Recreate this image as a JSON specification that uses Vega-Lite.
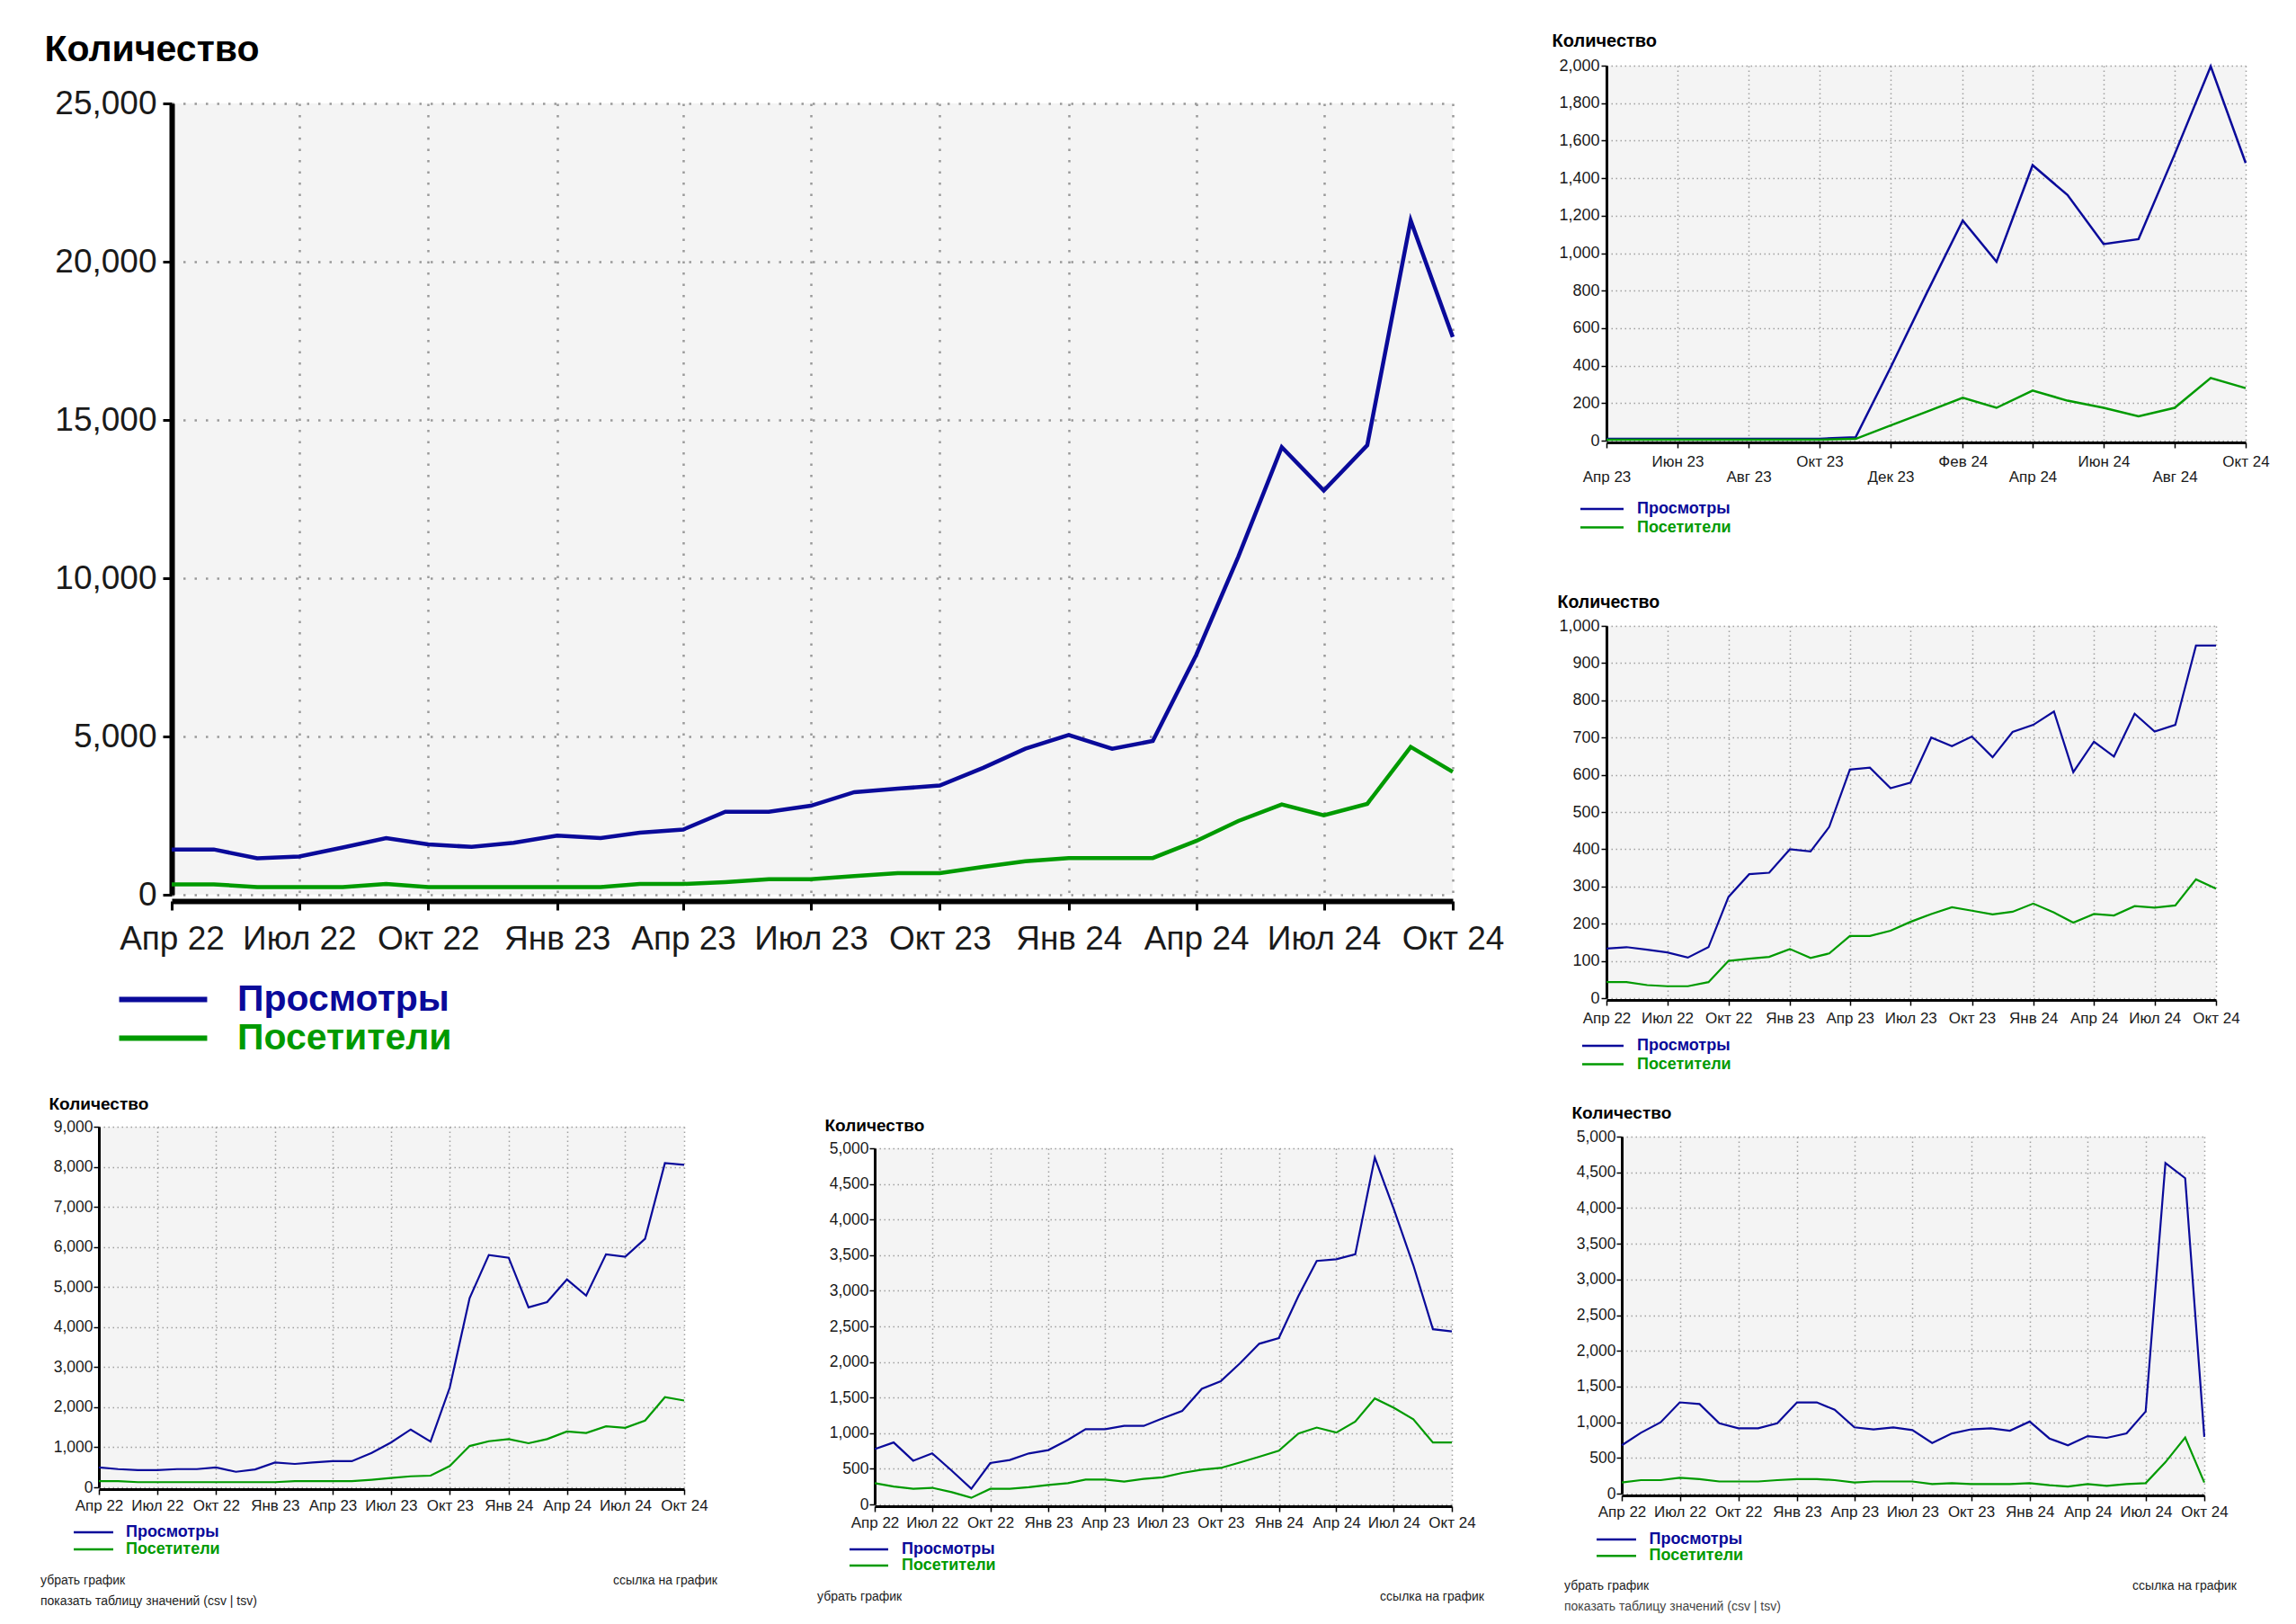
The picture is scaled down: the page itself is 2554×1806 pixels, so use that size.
{
  "$schema": "https://vega.github.io/schema/vega-lite/v6.json",
  "padding": {"left": 45, "top": 34, "right": 5, "bottom": 5},
  "background": "white",
  "bounds": "flush",
  "spacing": 0,
  "resolve": {"scale": {"color": "independent"}, "legend": {"color": "independent"}},
  "config": {
    "font": "Liberation Sans",
    "view": {"stroke": null},
    "axis": {"labelFont": "Liberation Sans", "titleFont": "Liberation Sans", "labelColor": "#1a1a1a", "titleColor": "#000", "domainColor": "#000", "tickColor": "#000", "labelFlush": false, "labelOverlap": false, "grid": true},
    "legend": {"labelFont": "Liberation Sans"},
    "text": {"font": "Liberation Sans"}
  },
  "datasets": {
    "main": [
      {"d":"2022-04-01","Просмотры":1430,"Посетители":330},{"d":"2022-05-01","Просмотры":1430,"Посетители":330},{"d":"2022-06-01","Просмотры":1150,"Посетители":240},{"d":"2022-07-01","Просмотры":1210,"Посетители":240},{"d":"2022-08-01","Просмотры":1490,"Посетители":240},{"d":"2022-09-01","Просмотры":1790,"Посетители":340},{"d":"2022-10-01","Просмотры":1590,"Посетители":240},{"d":"2022-11-01","Просмотры":1510,"Посетители":240},{"d":"2022-12-01","Просмотры":1640,"Посетители":240},{"d":"2023-01-01","Просмотры":1870,"Посетители":240},{"d":"2023-02-01","Просмотры":1790,"Посетители":240},{"d":"2023-03-01","Просмотры":1960,"Посетители":340},{"d":"2023-04-01","Просмотры":2060,"Посетители":340},{"d":"2023-05-01","Просмотры":2620,"Посетители":400},{"d":"2023-06-01","Просмотры":2620,"Посетители":490},{"d":"2023-07-01","Просмотры":2810,"Посетители":490},{"d":"2023-08-01","Просмотры":3240,"Посетители":590},{"d":"2023-09-01","Просмотры":3350,"Посетители":680},{"d":"2023-10-01","Просмотры":3450,"Посетители":680},{"d":"2023-11-01","Просмотры":4010,"Посетители":880},{"d":"2023-12-01","Просмотры":4610,"Посетители":1060},{"d":"2024-01-01","Просмотры":5050,"Посетители":1160},{"d":"2024-02-01","Просмотры":4610,"Посетители":1160},{"d":"2024-03-01","Просмотры":4860,"Посетители":1160},{"d":"2024-04-01","Просмотры":7580,"Посетители":1700},{"d":"2024-05-01","Просмотры":10680,"Посетители":2330},{"d":"2024-06-01","Просмотры":14140,"Посетители":2850},{"d":"2024-07-01","Просмотры":12770,"Посетители":2510},{"d":"2024-08-01","Просмотры":14200,"Посетители":2870},{"d":"2024-09-01","Просмотры":21300,"Посетители":4670},{"d":"2024-10-01","Просмотры":17620,"Посетители":3880}
    ],
    "tr": [
      {"d":"2023-04-01","Просмотры":10,"Посетители":5},{"d":"2023-05-01","Просмотры":10,"Посетители":5},{"d":"2023-06-01","Просмотры":10,"Посетители":5},{"d":"2023-07-01","Просмотры":10,"Посетители":5},{"d":"2023-08-01","Просмотры":10,"Посетители":5},{"d":"2023-09-01","Просмотры":10,"Посетители":5},{"d":"2023-10-01","Просмотры":10,"Посетители":5},{"d":"2023-11-01","Просмотры":18,"Посетители":9},{"d":"2023-12-01","Просмотры":390,"Посетители":81},{"d":"2024-01-01","Просмотры":786,"Посетители":154},{"d":"2024-02-01","Просмотры":1174,"Посетители":229},{"d":"2024-03-01","Просмотры":954,"Посетители":175},{"d":"2024-04-01","Просмотры":1469,"Посетители":267},{"d":"2024-05-01","Просмотры":1310,"Посетители":213},{"d":"2024-06-01","Просмотры":1048,"Посетители":175},{"d":"2024-07-01","Просмотры":1075,"Посетители":130},{"d":"2024-08-01","Просмотры":1527,"Посетители":175},{"d":"2024-09-01","Просмотры":1996,"Посетители":334},{"d":"2024-10-01","Просмотры":1481,"Посетители":280}
    ],
    "mr": [
      {"d":"2022-04-01","Просмотры":133,"Посетители":43},{"d":"2022-05-01","Просмотры":137,"Посетители":43},{"d":"2022-06-01","Просмотры":130,"Посетители":35},{"d":"2022-07-01","Просмотры":123,"Посетители":32},{"d":"2022-08-01","Просмотры":109,"Посетители":32},{"d":"2022-09-01","Просмотры":137,"Посетители":43},{"d":"2022-10-01","Просмотры":272,"Посетители":100},{"d":"2022-11-01","Просмотры":333,"Посетители":106},{"d":"2022-12-01","Просмотры":337,"Посетители":111},{"d":"2023-01-01","Просмотры":400,"Посетители":132},{"d":"2023-02-01","Просмотры":394,"Посетители":108},{"d":"2023-03-01","Просмотры":460,"Посетители":120},{"d":"2023-04-01","Просмотры":614,"Посетители":167},{"d":"2023-05-01","Просмотры":619,"Посетители":167},{"d":"2023-06-01","Просмотры":564,"Посетители":181},{"d":"2023-07-01","Просмотры":579,"Посетители":205},{"d":"2023-08-01","Просмотры":700,"Посетители":226},{"d":"2023-09-01","Просмотры":677,"Посетители":244},{"d":"2023-10-01","Просмотры":703,"Посетители":235},{"d":"2023-11-01","Просмотры":647,"Посетители":225},{"d":"2023-12-01","Просмотры":715,"Посетители":232},{"d":"2024-01-01","Просмотры":734,"Посетители":254},{"d":"2024-02-01","Просмотры":770,"Посетители":230},{"d":"2024-03-01","Просмотры":607,"Посетители":203},{"d":"2024-04-01","Просмотры":689,"Посетители":226},{"d":"2024-05-01","Просмотры":649,"Посетители":222},{"d":"2024-06-01","Просмотры":764,"Посетители":247},{"d":"2024-07-01","Просмотры":716,"Посетители":243},{"d":"2024-08-01","Просмотры":734,"Посетители":249},{"d":"2024-09-01","Просмотры":947,"Посетители":319},{"d":"2024-10-01","Просмотры":947,"Посетители":294}
    ],
    "bl": [
      {"d":"2022-04-01","Просмотры":498,"Посетители":155},{"d":"2022-05-01","Просмотры":455,"Посетители":155},{"d":"2022-06-01","Просмотры":430,"Посетители":129},{"d":"2022-07-01","Просмотры":430,"Посетители":129},{"d":"2022-08-01","Просмотры":455,"Посетители":129},{"d":"2022-09-01","Просмотры":455,"Посетители":129},{"d":"2022-10-01","Просмотры":498,"Посетители":129},{"d":"2022-11-01","Просмотры":387,"Посетители":129},{"d":"2022-12-01","Просмотры":447,"Посетители":129},{"d":"2023-01-01","Просмотры":619,"Посетители":129},{"d":"2023-02-01","Просмотры":584,"Посетители":155},{"d":"2023-03-01","Просмотры":619,"Посетители":155},{"d":"2023-04-01","Просмотры":653,"Посетители":155},{"d":"2023-05-01","Просмотры":653,"Посетители":155},{"d":"2023-06-01","Просмотры":859,"Посетители":189},{"d":"2023-07-01","Просмотры":1117,"Посетители":232},{"d":"2023-08-01","Просмотры":1443,"Посетители":275},{"d":"2023-09-01","Просмотры":1143,"Посетители":292},{"d":"2023-10-01","Просмотры":2491,"Посетители":533},{"d":"2023-11-01","Просмотры":4725,"Посетители":1031},{"d":"2023-12-01","Просмотры":5799,"Посетители":1151},{"d":"2024-01-01","Просмотры":5730,"Посетители":1203},{"d":"2024-02-01","Просмотры":4493,"Посетители":1100},{"d":"2024-03-01","Просмотры":4622,"Посетители":1203},{"d":"2024-04-01","Просмотры":5189,"Посетители":1392},{"d":"2024-05-01","Просмотры":4785,"Посетители":1357},{"d":"2024-06-01","Просмотры":5816,"Посетители":1521},{"d":"2024-07-01","Просмотры":5756,"Посетители":1486},{"d":"2024-08-01","Просмотры":6203,"Посетители":1667},{"d":"2024-09-01","Просмотры":8093,"Посетители":2251},{"d":"2024-10-01","Просмотры":8050,"Посетители":2165}
    ],
    "bm": [
      {"d":"2022-04-01","Просмотры":777,"Посетители":298},{"d":"2022-05-01","Просмотры":870,"Посетители":251},{"d":"2022-06-01","Просмотры":614,"Посетители":219},{"d":"2022-07-01","Просмотры":716,"Посетители":233},{"d":"2022-08-01","Просмотры":474,"Посетители":172},{"d":"2022-09-01","Просмотры":219,"Посетители":93},{"d":"2022-10-01","Просмотры":581,"Посетители":219},{"d":"2022-11-01","Просмотры":623,"Посетители":219},{"d":"2022-12-01","Просмотры":716,"Посетители":242},{"d":"2023-01-01","Просмотры":763,"Посетители":274},{"d":"2023-02-01","Просмотры":907,"Посетители":298},{"d":"2023-03-01","Просмотры":1056,"Посетители":349},{"d":"2023-04-01","Просмотры":1056,"Посетители":349},{"d":"2023-05-01","Просмотры":1102,"Посетители":321},{"d":"2023-06-01","Просмотры":1102,"Посетители":358},{"d":"2023-07-01","Просмотры":1209,"Посетители":381},{"d":"2023-08-01","Просмотры":1312,"Посетители":442},{"d":"2023-09-01","Просмотры":1623,"Посетители":488},{"d":"2023-10-01","Просмотры":1730,"Посетители":512},{"d":"2023-11-01","Просмотры":1986,"Посетители":591},{"d":"2023-12-01","Просмотры":2256,"Посетители":670},{"d":"2024-01-01","Просмотры":2335,"Посетители":753},{"d":"2024-02-01","Просмотры":2926,"Посетители":995},{"d":"2024-03-01","Просмотры":3419,"Посетители":1079},{"d":"2024-04-01","Просмотры":3442,"Посетители":1009},{"d":"2024-05-01","Просмотры":3512,"Посетители":1163},{"d":"2024-06-01","Просмотры":4870,"Посетители":1488},{"d":"2024-07-01","Просмотры":4149,"Посетители":1358},{"d":"2024-08-01","Просмотры":3358,"Посетители":1195},{"d":"2024-09-01","Просмотры":2460,"Посетители":870},{"d":"2024-10-01","Просмотры":2428,"Посетители":870}
    ],
    "br": [
      {"d":"2022-04-01","Просмотры":677,"Посетители":156},{"d":"2022-05-01","Просмотры":852,"Посетители":189},{"d":"2022-06-01","Просмотры":999,"Посетители":189},{"d":"2022-07-01","Просмотры":1278,"Посетители":223},{"d":"2022-08-01","Просмотры":1255,"Посетители":204},{"d":"2022-09-01","Просмотры":985,"Посетители":170},{"d":"2022-10-01","Просмотры":914,"Посетители":170},{"d":"2022-11-01","Просмотры":914,"Посетители":170},{"d":"2022-12-01","Просмотры":985,"Посетители":189},{"d":"2023-01-01","Просмотры":1278,"Посетители":204},{"d":"2023-02-01","Просмотры":1278,"Посетители":204},{"d":"2023-03-01","Просмотры":1174,"Посетители":189},{"d":"2023-04-01","Просмотры":928,"Посетители":156},{"d":"2023-05-01","Просмотры":900,"Посетители":170},{"d":"2023-06-01","Просмотры":928,"Посетители":170},{"d":"2023-07-01","Просмотры":890,"Посетители":170},{"d":"2023-08-01","Просмотры":710,"Посетители":133},{"d":"2023-09-01","Просмотры":843,"Посетители":147},{"d":"2023-10-01","Просмотры":900,"Посетители":133},{"d":"2023-11-01","Просмотры":914,"Посетители":133},{"d":"2023-12-01","Просмотры":881,"Посетители":133},{"d":"2024-01-01","Просмотры":1009,"Посетители":147},{"d":"2024-02-01","Просмотры":772,"Посетители":118},{"d":"2024-03-01","Просмотры":677,"Посетители":99},{"d":"2024-04-01","Просмотры":805,"Посетители":133},{"d":"2024-05-01","Просмотры":781,"Посетители":109},{"d":"2024-06-01","Просмотры":843,"Посетители":133},{"d":"2024-07-01","Просмотры":1151,"Посетители":147},{"d":"2024-08-01","Просмотры":4631,"Посетители":440},{"d":"2024-09-01","Просмотры":4418,"Посетители":786},{"d":"2024-10-01","Просмотры":795,"Посетители":156}
    ]
  },
  "vconcat": [
    {
      "bounds": "flush",
      "spacing": 0,
      "resolve": {"scale": {"color": "independent"}, "legend": {"color": "independent"}},
      "hconcat": [
        {"width": 81, "height": 1, "view": {"stroke": null, "fill": null}, "data": {"values": [{}]}, "mark": {"type": "text", "text": ""}},
        {
          "bounds": "flush",
          "spacing": 0,
          "resolve": {"scale": {"color": "independent"}, "legend": {"color": "independent"}},
          "vconcat": [
            {"width": 1, "height": 42, "view": {"stroke": null, "fill": null}, "data": {"values": [{}]}, "mark": {"type": "text", "text": ""}},
            {
              "width": 1425, "height": 880,
              "view": {"fill": "#f4f4f4", "stroke": null},
              "data": {"name": "main"},
              "transform": [{"fold": ["Просмотры", "Посетители"], "as": ["s", "v"]}],
              "mark": {"type": "line", "strokeWidth": 4.5},
              "encoding": {
                "x": {"field": "d", "type": "temporal",
                  "scale": {"type": "utc", "domain": [{"year": 2022, "month": 4, "date": 1, "utc": true}, {"year": 2024, "month": 10, "date": 1, "utc": true}], "nice": false},
                  "axis": {"title": null,
                    "values": [{"year":2022,"month":4,"date":1,"utc":true},{"year":2022,"month":7,"date":1,"utc":true},{"year":2022,"month":10,"date":1,"utc":true},{"year":2023,"month":1,"date":1,"utc":true},{"year":2023,"month":4,"date":1,"utc":true},{"year":2023,"month":7,"date":1,"utc":true},{"year":2023,"month":10,"date":1,"utc":true},{"year":2024,"month":1,"date":1,"utc":true},{"year":2024,"month":4,"date":1,"utc":true},{"year":2024,"month":7,"date":1,"utc":true},{"year":2024,"month":10,"date":1,"utc":true}],
                    "labelExpr": "['Янв','Фев','Мар','Апр','Май','Июн','Июл','Авг','Сен','Окт','Ноя','Дек'][utcmonth(datum.value)] + ' ' + utcFormat(datum.value, '%y')",
                    "labelFontSize": 37, "labelPadding": 14, "tickSize": 10, "tickWidth": 3, "domainWidth": 6, "offset": 7,
                    "gridDash": [2.5, 10], "gridWidth": 2.5, "gridColor": "#999"}},
                "y": {"field": "v", "type": "quantitative",
                  "scale": {"domain": [0, 25000], "nice": false},
                  "axis": {"title": "Количество", "titleAngle": 0, "titleAlign": "left", "titleBaseline": "middle", "titleX": -142, "titleY": -60, "titleFontSize": 41, "titleFontWeight": "bold",
                    "values": [0, 5000, 10000, 15000, 20000, 25000], "format": ",d",
                    "labelFontSize": 37, "labelPadding": 7, "tickSize": 10, "tickWidth": 3, "domainWidth": 6,
                    "gridDash": [2.5, 10], "gridWidth": 2.5, "gridColor": "#999"}},
                "color": {"field": "s", "type": "nominal",
                  "scale": {"domain": ["Просмотры", "Посетители"], "range": ["#0a0a9a", "#009a00"]},
                  "legend": {"title": null, "orient": "none", "legendX": -30, "legendY": 976, "symbolType": "M-3.06,0H3.06", "symbolSize": 1024, "symbolStrokeWidth": 6,
                    "labelFontSize": 41, "labelFontWeight": "bold", "labelOffset": 62, "rowPadding": 1, "padding": 0, "labelLimit": 0,
                    "encode": {"labels": {"update": {"fill": {"signal": "datum.value === 'Просмотры' ? '#0a0a9a' : '#009a00'"}}}}}}
              }
            }
          ]
        },
        {"width": 1596, "height": 1, "view": {"stroke": null, "fill": null}, "data": {"values": [{}]}, "mark": {"type": "text", "text": ""}},
        {
          "bounds": "flush",
          "spacing": 206,
          "resolve": {"scale": {"color": "independent"}, "legend": {"color": "independent"}},
          "vconcat": [
            {
              "width": 711, "height": 417,
              "view": {"fill": "#f4f4f4", "stroke": null},
              "data": {"name": "tr"},
              "transform": [{"fold": ["Просмотры", "Посетители"], "as": ["s", "v"]}],
              "mark": {"type": "line", "strokeWidth": 2.5},
              "encoding": {
                "x": {"field": "d", "type": "temporal",
                  "scale": {"type": "utc", "domain": [{"year": 2023, "month": 4, "date": 1, "utc": true}, {"year": 2024, "month": 10, "date": 1, "utc": true}], "nice": false},
                  "axis": {"title": null,
                    "values": [{"year":2023,"month":4,"date":1,"utc":true},{"year":2023,"month":6,"date":1,"utc":true},{"year":2023,"month":8,"date":1,"utc":true},{"year":2023,"month":10,"date":1,"utc":true},{"year":2023,"month":12,"date":1,"utc":true},{"year":2024,"month":2,"date":1,"utc":true},{"year":2024,"month":4,"date":1,"utc":true},{"year":2024,"month":6,"date":1,"utc":true},{"year":2024,"month":8,"date":1,"utc":true},{"year":2024,"month":10,"date":1,"utc":true}],
                    "labelExpr": "['Янв','Фев','Мар','Апр','Май','Июн','Июл','Авг','Сен','Окт','Ноя','Дек'][utcmonth(datum.value)] + ' ' + utcFormat(datum.value, '%y')",
                    "labelFontSize": 17, "labelPadding": {"condition": {"test": "utcmonth(datum.value) == 3 || utcmonth(datum.value) == 7 || utcmonth(datum.value) == 11", "value": 24}, "value": 7},
                    "tickSize": 6, "tickWidth": 1.5, "domainWidth": 3, "offset": 2,
                    "gridDash": [1.5, 3.5], "gridWidth": 1.5, "gridColor": "#a0a0a0"}},
                "y": {"field": "v", "type": "quantitative",
                  "scale": {"domain": [0, 2000], "nice": false},
                  "axis": {"title": "Количество", "titleAngle": 0, "titleAlign": "left", "titleBaseline": "middle", "titleX": -61, "titleY": -28, "titleFontSize": 20, "titleFontWeight": "bold",
                    "values": [0, 200, 400, 600, 800, 1000, 1200, 1400, 1600, 1800, 2000], "format": ",d",
                    "labelFontSize": 18, "labelPadding": 2, "tickSize": 6, "tickWidth": 1.5, "domainWidth": 3,
                    "gridDash": [1.5, 3.5], "gridWidth": 1.5, "gridColor": "#a0a0a0"}},
                "color": {"field": "s", "type": "nominal",
                  "scale": {"domain": ["Просмотры", "Посетители"], "range": ["#0a0a9a", "#009a00"]},
                  "legend": {"title": null, "orient": "none", "legendX": -14, "legendY": 484, "symbolType": "M-3.2,0H3.2", "symbolSize": 225, "symbolStrokeWidth": 2.5,
                    "labelFontSize": 18, "labelFontWeight": "bold", "labelOffset": 30, "rowPadding": 2.5, "padding": 0, "labelLimit": 0,
                    "encode": {"labels": {"update": {"fill": {"signal": "datum.value === 'Просмотры' ? '#0a0a9a' : '#009a00'"}}}}}}
              }
            },
            {
              "width": 678, "height": 414,
              "view": {"fill": "#f4f4f4", "stroke": null},
              "data": {"name": "mr"},
              "transform": [{"fold": ["Просмотры", "Посетители"], "as": ["s", "v"]}],
              "mark": {"type": "line", "strokeWidth": 2.2},
              "encoding": {
                "x": {"field": "d", "type": "temporal",
                  "scale": {"type": "utc", "domain": [{"year": 2022, "month": 4, "date": 1, "utc": true}, {"year": 2024, "month": 10, "date": 1, "utc": true}], "nice": false},
                  "axis": {"title": null,
                    "values": [{"year":2022,"month":4,"date":1,"utc":true},{"year":2022,"month":7,"date":1,"utc":true},{"year":2022,"month":10,"date":1,"utc":true},{"year":2023,"month":1,"date":1,"utc":true},{"year":2023,"month":4,"date":1,"utc":true},{"year":2023,"month":7,"date":1,"utc":true},{"year":2023,"month":10,"date":1,"utc":true},{"year":2024,"month":1,"date":1,"utc":true},{"year":2024,"month":4,"date":1,"utc":true},{"year":2024,"month":7,"date":1,"utc":true},{"year":2024,"month":10,"date":1,"utc":true}],
                    "labelExpr": "['Янв','Фев','Мар','Апр','Май','Июн','Июл','Авг','Сен','Окт','Ноя','Дек'][utcmonth(datum.value)] + ' ' + utcFormat(datum.value, '%y')",
                    "labelFontSize": 17, "labelPadding": 6, "tickSize": 6, "tickWidth": 1.5, "domainWidth": 3, "offset": 2,
                    "gridDash": [1.5, 3.5], "gridWidth": 1.5, "gridColor": "#a0a0a0"}},
                "y": {"field": "v", "type": "quantitative",
                  "scale": {"domain": [0, 1000], "nice": false},
                  "axis": {"title": "Количество", "titleAngle": 0, "titleAlign": "left", "titleBaseline": "middle", "titleX": -55, "titleY": -27, "titleFontSize": 19.5, "titleFontWeight": "bold",
                    "values": [0, 100, 200, 300, 400, 500, 600, 700, 800, 900, 1000], "format": ",d",
                    "labelFontSize": 18, "labelPadding": 2, "tickSize": 6, "tickWidth": 1.5, "domainWidth": 3,
                    "gridDash": [1.5, 3.5], "gridWidth": 1.5, "gridColor": "#a0a0a0"}},
                "color": {"field": "s", "type": "nominal",
                  "scale": {"domain": ["Просмотры", "Посетители"], "range": ["#0a0a9a", "#009a00"]},
                  "legend": {"title": null, "orient": "none", "legendX": -13, "legendY": 458, "symbolType": "M-3.07,0H3.07", "symbolSize": 225, "symbolStrokeWidth": 2.5,
                    "labelFontSize": 18, "labelFontWeight": "bold", "labelOffset": 29, "rowPadding": 2.5, "padding": 0, "labelLimit": 0,
                    "encode": {"labels": {"update": {"fill": {"signal": "datum.value === 'Просмотры' ? '#0a0a9a' : '#009a00'"}}}}}}
              }
            }
          ]
        }
      ]
    },
    {"width": 1, "height": 1180, "view": {"stroke": null, "fill": null}, "data": {"values": [{}]}, "mark": {"type": "text", "text": ""}},
    {
      "bounds": "flush",
      "spacing": 0,
      "resolve": {"scale": {"color": "independent"}, "legend": {"color": "independent"}},
      "hconcat": [
        {
          "width": 651, "height": 401,
          "view": {"fill": "#f4f4f4", "stroke": null},
          "layer": [
            {
              "data": {"name": "bl"},
              "transform": [{"fold": ["Просмотры", "Посетители"], "as": ["s", "v"]}],
              "mark": {"type": "line", "strokeWidth": 2.2},
              "encoding": {
                "x": {"field": "d", "type": "temporal",
                  "scale": {"type": "utc", "domain": [{"year": 2022, "month": 4, "date": 1, "utc": true}, {"year": 2024, "month": 10, "date": 1, "utc": true}], "nice": false},
                  "axis": {"title": null,
                    "values": [{"year":2022,"month":4,"date":1,"utc":true},{"year":2022,"month":7,"date":1,"utc":true},{"year":2022,"month":10,"date":1,"utc":true},{"year":2023,"month":1,"date":1,"utc":true},{"year":2023,"month":4,"date":1,"utc":true},{"year":2023,"month":7,"date":1,"utc":true},{"year":2023,"month":10,"date":1,"utc":true},{"year":2024,"month":1,"date":1,"utc":true},{"year":2024,"month":4,"date":1,"utc":true},{"year":2024,"month":7,"date":1,"utc":true},{"year":2024,"month":10,"date":1,"utc":true}],
                    "labelExpr": "['Янв','Фев','Мар','Апр','Май','Июн','Июл','Авг','Сен','Окт','Ноя','Дек'][utcmonth(datum.value)] + ' ' + utcFormat(datum.value, '%y')",
                    "labelFontSize": 17, "labelPadding": 4.5, "tickSize": 6, "tickWidth": 1.5, "domainWidth": 3, "offset": 2,
                    "gridDash": [1.5, 3.5], "gridWidth": 1.5, "gridColor": "#a0a0a0"}},
                "y": {"field": "v", "type": "quantitative",
                  "scale": {"domain": [0, 9000], "nice": false},
                  "axis": {"title": "Количество", "titleAngle": 0, "titleAlign": "left", "titleBaseline": "middle", "titleX": -56, "titleY": -26, "titleFontSize": 19, "titleFontWeight": "bold",
                    "values": [0, 1000, 2000, 3000, 4000, 5000, 6000, 7000, 8000, 9000], "format": ",d",
                    "labelFontSize": 17.5, "labelPadding": 1, "tickSize": 6, "tickWidth": 1.5, "domainWidth": 3,
                    "gridDash": [1.5, 3.5], "gridWidth": 1.5, "gridColor": "#a0a0a0"}},
                "color": {"field": "s", "type": "nominal",
                  "scale": {"domain": ["Просмотры", "Посетители"], "range": ["#0a0a9a", "#009a00"]},
                  "legend": {"title": null, "orient": "none", "legendX": -15, "legendY": 442, "symbolType": "M-2.93,0H2.93", "symbolSize": 225, "symbolStrokeWidth": 2.5,
                    "labelFontSize": 18, "labelFontWeight": "bold", "labelOffset": 27, "rowPadding": 1, "padding": 0, "labelLimit": 0,
                    "encode": {"labels": {"update": {"fill": {"signal": "datum.value === 'Просмотры' ? '#0a0a9a' : '#009a00'"}}}}}}
              }
            },
            {"data": {"values": [{}]}, "mark": {"type": "text", "text": "убрать график", "align": "left", "baseline": "middle", "fontSize": 14, "color": "#222"}, "encoding": {"x": {"value": -65}, "y": {"value": 505}}},
            {"data": {"values": [{}]}, "mark": {"type": "text", "text": "ссылка на график", "align": "right", "baseline": "middle", "fontSize": 14, "color": "#222"}, "encoding": {"x": {"value": 688}, "y": {"value": 505}}},
            {"data": {"values": [{}]}, "mark": {"type": "text", "text": "показать таблицу значений (csv | tsv)", "align": "left", "baseline": "middle", "fontSize": 14, "color": "#222"}, "encoding": {"x": {"value": -65}, "y": {"value": 528}}}
          ]
        },
        {"width": 212, "height": 1, "view": {"stroke": null, "fill": null}, "data": {"values": [{}]}, "mark": {"type": "text", "text": ""}},
        {
          "bounds": "flush",
          "spacing": 0,
          "resolve": {"scale": {"color": "independent"}, "legend": {"color": "independent"}},
          "vconcat": [
            {"width": 1, "height": 24, "view": {"stroke": null, "fill": null}, "data": {"values": [{}]}, "mark": {"type": "text", "text": ""}},
            {
              "width": 642, "height": 396,
              "view": {"fill": "#f4f4f4", "stroke": null},
              "layer": [
                {
                  "data": {"name": "bm"},
                  "transform": [{"fold": ["Просмотры", "Посетители"], "as": ["s", "v"]}],
                  "mark": {"type": "line", "strokeWidth": 2.2},
                  "encoding": {
                    "x": {"field": "d", "type": "temporal",
                      "scale": {"type": "utc", "domain": [{"year": 2022, "month": 4, "date": 1, "utc": true}, {"year": 2024, "month": 10, "date": 1, "utc": true}], "nice": false},
                      "axis": {"title": null,
                        "values": [{"year":2022,"month":4,"date":1,"utc":true},{"year":2022,"month":7,"date":1,"utc":true},{"year":2022,"month":10,"date":1,"utc":true},{"year":2023,"month":1,"date":1,"utc":true},{"year":2023,"month":4,"date":1,"utc":true},{"year":2023,"month":7,"date":1,"utc":true},{"year":2023,"month":10,"date":1,"utc":true},{"year":2024,"month":1,"date":1,"utc":true},{"year":2024,"month":4,"date":1,"utc":true},{"year":2024,"month":7,"date":1,"utc":true},{"year":2024,"month":10,"date":1,"utc":true}],
                        "labelExpr": "['Янв','Фев','Мар','Апр','Май','Июн','Июл','Авг','Сен','Окт','Ноя','Дек'][utcmonth(datum.value)] + ' ' + utcFormat(datum.value, '%y')",
                        "labelFontSize": 17, "labelPadding": 4.5, "tickSize": 6, "tickWidth": 1.5, "domainWidth": 3, "offset": 2,
                        "gridDash": [1.5, 3.5], "gridWidth": 1.5, "gridColor": "#a0a0a0"}},
                    "y": {"field": "v", "type": "quantitative",
                      "scale": {"domain": [0, 5000], "nice": false},
                      "axis": {"title": "Количество", "titleAngle": 0, "titleAlign": "left", "titleBaseline": "middle", "titleX": -56, "titleY": -26, "titleFontSize": 19, "titleFontWeight": "bold",
                        "values": [0, 500, 1000, 1500, 2000, 2500, 3000, 3500, 4000, 4500, 5000], "format": ",d",
                        "labelFontSize": 17.5, "labelPadding": 1, "tickSize": 6, "tickWidth": 1.5, "domainWidth": 3,
                        "gridDash": [1.5, 3.5], "gridWidth": 1.5, "gridColor": "#a0a0a0"}},
                    "color": {"field": "s", "type": "nominal",
                      "scale": {"domain": ["Просмотры", "Посетители"], "range": ["#0a0a9a", "#009a00"]},
                      "legend": {"title": null, "orient": "none", "legendX": -15.5, "legendY": 437, "symbolType": "M-2.87,0H2.87", "symbolSize": 225, "symbolStrokeWidth": 2.5,
                        "labelFontSize": 18, "labelFontWeight": "bold", "labelOffset": 27.5, "rowPadding": 0, "padding": 0, "labelLimit": 0,
                        "encode": {"labels": {"update": {"fill": {"signal": "datum.value === 'Просмотры' ? '#0a0a9a' : '#009a00'"}}}}}}
                  }
                },
                {"data": {"values": [{}]}, "mark": {"type": "text", "text": "убрать график", "align": "left", "baseline": "middle", "fontSize": 14, "color": "#222"}, "encoding": {"x": {"value": -64}, "y": {"value": 499}}},
                {"data": {"values": [{}]}, "mark": {"type": "text", "text": "ссылка на график", "align": "right", "baseline": "middle", "fontSize": 14, "color": "#222"}, "encoding": {"x": {"value": 678}, "y": {"value": 499}}}
              ]
            }
          ]
        },
        {"width": 831, "height": 1, "view": {"stroke": null, "fill": null}, "data": {"values": [{}]}, "mark": {"type": "text", "text": ""}},
        {
          "bounds": "flush",
          "spacing": 0,
          "resolve": {"scale": {"color": "independent"}, "legend": {"color": "independent"}},
          "vconcat": [
            {"width": 1, "height": 11, "view": {"stroke": null, "fill": null}, "data": {"values": [{}]}, "mark": {"type": "text", "text": ""}},
            {
              "width": 648, "height": 397,
              "view": {"fill": "#f4f4f4", "stroke": null},
              "layer": [
                {
                  "data": {"name": "br"},
                  "transform": [{"fold": ["Просмотры", "Посетители"], "as": ["s", "v"]}],
                  "mark": {"type": "line", "strokeWidth": 2.2},
                  "encoding": {
                    "x": {"field": "d", "type": "temporal",
                      "scale": {"type": "utc", "domain": [{"year": 2022, "month": 4, "date": 1, "utc": true}, {"year": 2024, "month": 10, "date": 1, "utc": true}], "nice": false},
                      "axis": {"title": null,
                        "values": [{"year":2022,"month":4,"date":1,"utc":true},{"year":2022,"month":7,"date":1,"utc":true},{"year":2022,"month":10,"date":1,"utc":true},{"year":2023,"month":1,"date":1,"utc":true},{"year":2023,"month":4,"date":1,"utc":true},{"year":2023,"month":7,"date":1,"utc":true},{"year":2023,"month":10,"date":1,"utc":true},{"year":2024,"month":1,"date":1,"utc":true},{"year":2024,"month":4,"date":1,"utc":true},{"year":2024,"month":7,"date":1,"utc":true},{"year":2024,"month":10,"date":1,"utc":true}],
                        "labelExpr": "['Янв','Фев','Мар','Апр','Май','Июн','Июл','Авг','Сен','Окт','Ноя','Дек'][utcmonth(datum.value)] + ' ' + utcFormat(datum.value, '%y')",
                        "labelFontSize": 17, "labelPadding": 4.5, "tickSize": 6, "tickWidth": 1.5, "domainWidth": 3, "offset": 2,
                        "gridDash": [1.5, 3.5], "gridWidth": 1.5, "gridColor": "#a0a0a0"}},
                    "y": {"field": "v", "type": "quantitative",
                      "scale": {"domain": [0, 5000], "nice": false},
                      "axis": {"title": "Количество", "titleAngle": 0, "titleAlign": "left", "titleBaseline": "middle", "titleX": -56, "titleY": -26.5, "titleFontSize": 19, "titleFontWeight": "bold",
                        "values": [0, 500, 1000, 1500, 2000, 2500, 3000, 3500, 4000, 4500, 5000], "format": ",d",
                        "labelFontSize": 17.5, "labelPadding": 1, "tickSize": 6, "tickWidth": 1.5, "domainWidth": 3,
                        "gridDash": [1.5, 3.5], "gridWidth": 1.5, "gridColor": "#a0a0a0"}},
                    "color": {"field": "s", "type": "nominal",
                      "scale": {"domain": ["Просмотры", "Посетители"], "range": ["#0a0a9a", "#009a00"]},
                      "legend": {"title": null, "orient": "none", "legendX": -15, "legendY": 439, "symbolType": "M-2.93,0H2.93", "symbolSize": 225, "symbolStrokeWidth": 2.5,
                        "labelFontSize": 18, "labelFontWeight": "bold", "labelOffset": 27.5, "rowPadding": 0.3, "padding": 0, "labelLimit": 0,
                        "encode": {"labels": {"update": {"fill": {"signal": "datum.value === 'Просмотры' ? '#0a0a9a' : '#009a00'"}}}}}}
                  }
                },
                {"data": {"values": [{}]}, "mark": {"type": "text", "text": "убрать график", "align": "left", "baseline": "middle", "fontSize": 14, "color": "#222"}, "encoding": {"x": {"value": -64}, "y": {"value": 500}}},
                {"data": {"values": [{}]}, "mark": {"type": "text", "text": "ссылка на график", "align": "right", "baseline": "middle", "fontSize": 14, "color": "#222"}, "encoding": {"x": {"value": 684}, "y": {"value": 500}}},
                {"data": {"values": [{}]}, "mark": {"type": "text", "text": "показать таблицу значений (csv | tsv)", "align": "left", "baseline": "middle", "fontSize": 14, "color": "#444"}, "encoding": {"x": {"value": -64}, "y": {"value": 523}}}
              ]
            }
          ]
        }
      ]
    }
  ]
}
